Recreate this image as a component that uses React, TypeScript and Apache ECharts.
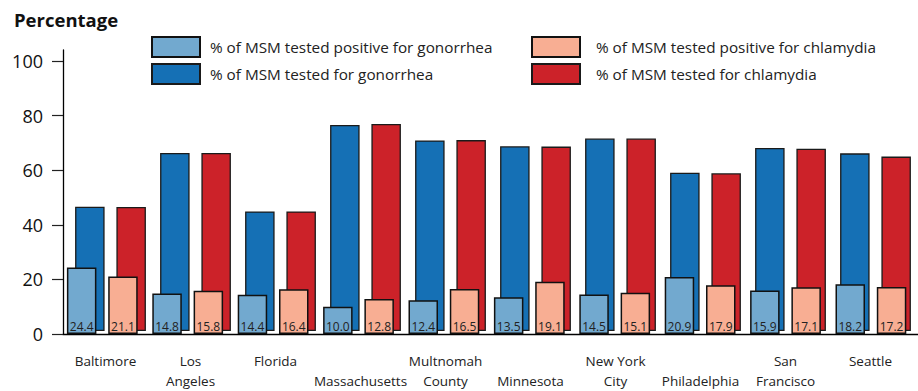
import React, { useEffect, useRef } from "react";
import * as echarts from "echarts";

const sites = [
  "Baltimore",
  "Los\nAngeles",
  "Florida",
  "\nMassachusetts",
  "Multnomah\nCounty",
  "\nMinnesota",
  "New York\nCity",
  "\nPhiladelphia",
  "San\nFrancisco",
  "Seattle",
];
const testedGonorrhea = [46.0, 65.9, 44.3, 76.3, 70.6, 68.4, 71.3, 58.6, 67.8, 65.8];
const testedChlamydia = [45.9, 65.9, 44.3, 76.7, 70.7, 68.3, 71.3, 58.4, 67.5, 64.6];
const positiveGonorrhea = [24.4, 14.8, 14.4, 10.0, 12.4, 13.5, 14.5, 20.9, 15.9, 18.2];
const positiveChlamydia = [21.1, 15.8, 16.4, 12.8, 16.5, 19.1, 15.1, 17.9, 17.1, 17.2];
const yMin = 0;
const yMax = 100;
const yInterval = 20;

const NAME_PG = "% of MSM tested positive for gonorrhea";
const NAME_TG = "% of MSM tested for gonorrhea";
const NAME_PC = "% of MSM tested positive for chlamydia";
const NAME_TC = "% of MSM tested for chlamydia";

const FONT = "'Open Sans', 'Noto Sans', sans-serif";

export default function App() {
  const ref = useRef<HTMLDivElement>(null);
  useEffect(() => {
    if (!ref.current) return;
    const chart = echarts.init(ref.current, undefined, { renderer: "svg" });
    const hiddenX = (grid: number) => ({
      type: "category" as const,
      gridIndex: grid,
      data: sites,
      show: false,
    });
    const hiddenY = (grid: number) => ({
      type: "value" as const,
      gridIndex: grid,
      min: yMin,
      max: yMax,
      show: false,
    });
    const posLabel = {
      show: true,
      position: "insideBottom" as const,
      distance: 2,
      fontSize: 12,
      fontFamily: FONT,
      color: "#222",
      formatter: (p: any) => Number(p.value).toFixed(1),
    };
    const legendText = (padLeft: number) => ({
      fontSize: 15.3,
      color: "#222",
      fontFamily: FONT,
      padding: [0, 0, 0, padLeft],
    });
    const option: any = {
      animation: false,
      backgroundColor: "#fff",
      textStyle: { fontFamily: FONT },
      title: {
        text: "Percentage",
        left: 14,
        top: 10,
        padding: 0,
        textStyle: { fontSize: 18.5, fontWeight: "bold", color: "#111", fontFamily: FONT },
      },
      legend: [
        {
          data: [NAME_PG, NAME_TG],
          orient: "vertical",
          left: 151,
          top: 36,
          padding: 0,
          icon: "rect",
          itemWidth: 48,
          itemHeight: 20,
          itemGap: 5,
          selectedMode: false,
          textStyle: legendText(5),
        },
        {
          data: [NAME_PC, NAME_TC],
          orient: "vertical",
          left: 531,
          top: 36,
          padding: 0,
          icon: "rect",
          itemWidth: 48,
          itemHeight: 20,
          itemGap: 5,
          selectedMode: false,
          textStyle: legendText(11),
        },
      ],
      grid: [
        { left: 63, right: 0, top: 50, bottom: 57 },
        { left: 63, right: 0, top: 61, bottom: 57 },
        { left: 68, right: -4, top: 61, bottom: 57 },
        { left: 59.6, right: 4.4, top: 61, bottom: 57 },
      ],
      xAxis: [
        {
          type: "category",
          gridIndex: 0,
          data: sites,
          axisLine: { show: true, lineStyle: { color: "#000", width: 1.3 } },
          axisTick: { show: false },
          axisLabel: { show: false },
        },
        hiddenX(1),
        {
          type: "category",
          gridIndex: 2,
          data: sites,
          axisLine: { show: false },
          axisTick: { show: false },
          axisLabel: {
            show: true,
            interval: 0,
            margin: 20,
            fontSize: 13.5,
            lineHeight: 20,
            color: "#222",
            fontFamily: FONT,
            padding: [0, 10, 0, 0],
          },
        },
        hiddenX(3),
      ],
      yAxis: [
        {
          type: "value",
          gridIndex: 0,
          min: yMin,
          max: yMax,
          axisLine: { show: true, lineStyle: { color: "#000", width: 1.3 } },
          axisTick: { show: false },
          axisLabel: { show: false },
          splitLine: { show: false },
        },
        {
          type: "value",
          gridIndex: 1,
          min: yMin,
          max: yMax,
          interval: yInterval,
          axisLine: { show: false },
          axisTick: { show: true, length: 11, lineStyle: { color: "#222", width: 1.2 } },
          axisLabel: { show: true, margin: 20, fontSize: 18, color: "#111", fontFamily: FONT },
          splitLine: { show: false },
        },
        hiddenY(2),
        hiddenY(3),
      ],
      series: [
        {
          name: NAME_TG,
          type: "bar",
          xAxisIndex: 2,
          yAxisIndex: 2,
          data: testedGonorrhea,
          barWidth: 29.5,
          barGap: "40%",
          z: 2,
          itemStyle: { color: "#1570b5", borderColor: "#1a1a1a", borderWidth: 1.3 },
        },
        {
          name: NAME_TC,
          type: "bar",
          xAxisIndex: 2,
          yAxisIndex: 2,
          data: testedChlamydia,
          barWidth: 29.5,
          barGap: "40%",
          z: 2,
          itemStyle: { color: "#cc2229", borderColor: "#1a1a1a", borderWidth: 1.3 },
        },
        {
          name: NAME_PG,
          type: "bar",
          xAxisIndex: 3,
          yAxisIndex: 3,
          data: positiveGonorrhea,
          barWidth: 29.5,
          barGap: "40%",
          z: 3,
          label: posLabel,
          itemStyle: { color: "#72a9cf", borderColor: "#111", borderWidth: 1.5 },
        },
        {
          name: NAME_PC,
          type: "bar",
          xAxisIndex: 3,
          yAxisIndex: 3,
          data: positiveChlamydia,
          barWidth: 29.5,
          barGap: "40%",
          z: 3,
          label: posLabel,
          itemStyle: { color: "#f8ae93", borderColor: "#111", borderWidth: 1.5 },
        },
      ],
    };
    chart.setOption(option);
    return () => chart.dispose();
  }, []);
  return (
    <div
      ref={ref}
      style={{ position: "fixed", left: 0, top: 0, width: 918, height: 391 }}
    />
  );
}
